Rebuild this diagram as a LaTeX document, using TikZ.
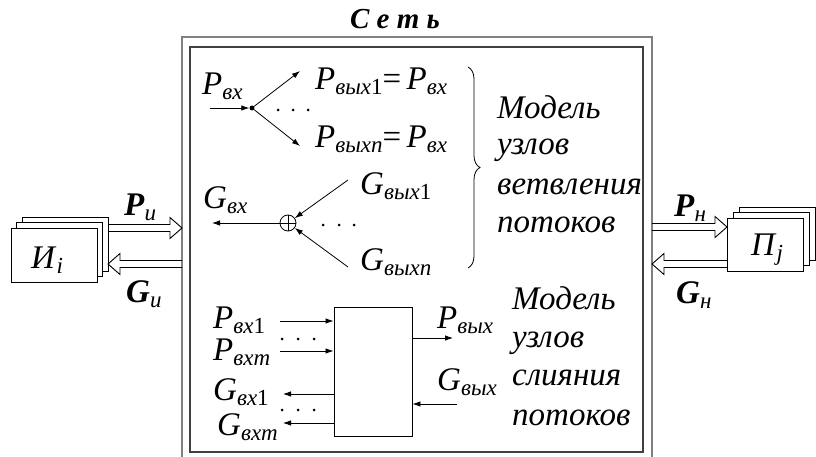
\documentclass[tikz,border=0pt]{standalone}
\usepackage{fontspec}
\setmainfont{Liberation Serif}
\usetikzlibrary{arrows.meta,calc,decorations.pathreplacing}
\newcommand\lo[1]{\raisebox{-5pt}{\fontsize{23}{23}\selectfont\itshape #1}}
\newcommand\vr[2]{\textit{#1}\lo{#2}}
\newcommand\bvr[2]{\textbf{\textit{#1}}\lo{#2}}
\newcommand\hollowR[2]{\draw[harrow] let \p1=(#1), \p2=(#2) in (\x1,\y1+3.5pt) -- (\x2-12pt,\y1+3.5pt) -- (\x2-12pt,\y1+10.5pt) -- (\x2,\y1) -- (\x2-12pt,\y1-10.5pt) -- (\x2-12pt,\y1-3.5pt) -- (\x1,\y1-3.5pt);}
\newcommand\hollowL[2]{\draw[harrow] let \p1=(#1), \p2=(#2) in (\x1,\y1+3.5pt) -- (\x2+12pt,\y1+3.5pt) -- (\x2+12pt,\y1+10.5pt) -- (\x2,\y1) -- (\x2+12pt,\y1-10.5pt) -- (\x2+12pt,\y1-3.5pt) -- (\x1,\y1-3.5pt);}
\tikzset{
  lbl/.style={anchor=base west, inner sep=0pt, font=\fontsize{33}{38}\selectfont},
  note/.style={anchor=base west, inner sep=0pt, font=\fontsize{33}{38}\selectfont\itshape},
  arr/.style={-{Latex[length=8pt,width=5.5pt]}, line width=0.8pt},
  box/.style={draw, line width=0.9pt, fill=white, inner sep=0pt},
  harrow/.style={line width=0.9pt},
  outerframe/.style={draw=black!50, line width=1.6pt},
  innerframe/.style={draw=black!75, line width=1.3pt},
}
\begin{document}
\begin{tikzpicture}[x=1pt,y=-1pt]
\fill[white] (0,0) rectangle (816,457);
\useasboundingbox (0,0) rectangle (816,457);

% frames
\draw[outerframe] (182,457) -- (182,37) -- (652,37) -- (652,457);
\draw[innerframe] (190,47) rectangle (643,452);
\node[anchor=base, inner sep=0pt, font=\fontsize{29}{34}\selectfont\bfseries\itshape] (title) at (395,29) {С е т ь};

% sources
\node[box, minimum width=86pt, minimum height=54pt] (I3) at (65,244) {};
\node[box, minimum width=86pt, minimum height=54pt] (I2) at (59.5,249.5) {};
\node[box, minimum width=86pt, minimum height=54pt] (I1) at (54,255) {};
\node[lbl] (Ilab) at (31,268) {\vr{И}{i}};

% sinks
\node[box, minimum width=76pt, minimum height=53pt] (S3) at (777,233.5) {};
\node[box, minimum width=76pt, minimum height=53pt] (S2) at (771,239) {};
\node[box, minimum width=76pt, minimum height=53pt] (S1) at (765,244.5) {};
\node[lbl] (Slab) at (751,255) {\vr{П}{j}};

% hollow arrows
\coordinate (pus) at (108,228); \coordinate (pue) at (182,228);
\coordinate (gus) at (182,264); \coordinate (gue) at (108,264);
\coordinate (pns) at (652,227); \coordinate (pne) at (727,227);
\coordinate (gns) at (727,264); \coordinate (gne) at (652,264);
\hollowR{pus}{pue}
\hollowL{gus}{gue}
\hollowR{pns}{pne}
\hollowL{gns}{gne}
\node[lbl] (Pu) at (124,215) {\bvr{P}{и}};
\node[lbl] (Gu) at (126,302) {\bvr{G}{и}};
\node[lbl] (Pn) at (674,216) {\bvr{P}{н}};
\node[lbl] (Gn) at (676,303) {\bvr{G}{н}};

% branching
\node[lbl] (pvx) at (202,95) {\vr{P}{вх}};
\coordinate (pin) at (210,108);
\node[circle, fill, inner sep=0pt, minimum size=5pt] (br) at (252,108) {};
\draw[arr] (pin) -- (br);
\coordinate (b1) at (300,71);
\coordinate (bn) at (300,146);
\draw[arr] (br) -- (b1);
\draw[arr] (br) -- (bn);
\foreach \x in {278,293,308} \fill (\x,110) circle (1.5pt);
\node[lbl] (pout1) at (315,90) {\vr{P}{вых\textup{1}}{=}\,\vr{P}{вх}};
\node[lbl] (poutn) at (315,148) {\vr{P}{выхn}{=}\,\vr{P}{вх}};

% summing
\node[circle, draw, line width=0.8pt, minimum size=16pt, inner sep=0pt] (sum) at (288,223) {};
\draw[line width=0.8pt] (sum.north) -- (sum.south) (sum.west) -- (sum.east);
\coordinate (gout) at (212,223);
\draw[arr] (sum) -- (gout);
\node[lbl] (gvx) at (203,208) {\vr{G}{вх}};
\coordinate (g1) at (348,180);
\coordinate (gn) at (348,267);
\draw[arr] (g1) -- (sum);
\draw[arr] (gn) -- (sum);
\foreach \x in {323,339,354} \fill (\x,225) circle (1.5pt);
\node[lbl] (gout1) at (360,195) {\vr{G}{вых\textup{1}}};
\node[lbl] (goutn) at (360,270) {\vr{G}{выхn}};

\draw[decorate, decoration={brace, amplitude=12pt}, line width=0.8pt] (468,67) -- (468,268);
\node[note] (m1) at (497,119) {Модель};
\node[note] (m2) at (497,155) {узлов};
\node[note] (m3) at (497,194) {ветвления};
\node[note] (m4) at (497,232) {потоков};

% merging
\node[box, minimum width=78pt, minimum height=129pt] (mb) at (373,371.5) {};
\coordinate (p1s) at (280,321);
\coordinate (pms) at (280,351);
\coordinate (g1e) at (283,394);
\coordinate (gme) at (283,423);
\draw[arr] (p1s) -- (p1s -| mb.west);
\draw[arr] (pms) -- (pms -| mb.west);
\draw[arr] (g1e -| mb.west) -- (g1e);
\draw[arr] (gme -| mb.west) -- (gme);
\foreach \x in {282,298,314} {\fill (\x,339) circle (1.5pt); \fill (\x,410) circle (1.5pt);}
\node[lbl] (pin1) at (213,328) {\vr{P}{вх\textup{1}}};
\node[lbl] (pinm) at (213,360) {\vr{P}{вхm}};
\node[lbl] (gin1) at (213,400) {\vr{G}{вх\textup{1}}};
\node[lbl] (ginm) at (217,435) {\vr{G}{вхm}};
\coordinate (poe) at (453,338);
\coordinate (gos) at (457,404);
\draw[arr] (poe -| mb.east) -- (poe);
\draw[arr] (gos) -- (gos -| mb.east);
\node[lbl] (pvyx) at (437,328) {\vr{P}{вых}};
\node[lbl] (gvyx) at (437,390) {\vr{G}{вых}};
\node[note] (n1) at (512,309) {Модель};
\node[note] (n2) at (512,347) {узлов};
\node[note] (n3) at (512,385) {слияния};
\node[note] (n4) at (512,425) {потоков};
\end{tikzpicture}
\end{document}
